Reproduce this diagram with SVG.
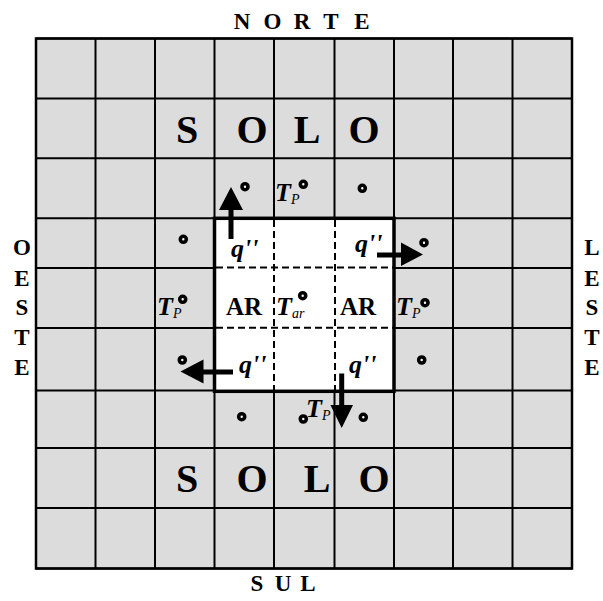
<svg xmlns="http://www.w3.org/2000/svg" width="603" height="601" viewBox="0 0 603 601">
<defs>
<style>
.grid{stroke:#000;stroke-width:2;fill:none}
.lbl{font-family:"Liberation Serif",serif;font-weight:bold;fill:#000}
.big{font-size:40px}
.dir{font-size:23px;text-anchor:middle}
.it{font-family:"Liberation Serif",serif;font-weight:bold;font-style:italic;fill:#000}
.sub{font-family:"Liberation Serif",serif;font-style:italic;font-weight:normal;font-size:14px}
.dot{fill:#fff;stroke:#000;stroke-width:3.6}
.dash{stroke:#000;stroke-width:2;stroke-dasharray:7,4;fill:none}
.arr{fill:#000;stroke:none}
</style>
</defs>
<rect width="603" height="601" fill="#fff"/>
<g id="soil">
<rect x="36" y="38.5" width="536" height="530" fill="#dcdcdc"/>
<path class="grid" d="M36 38.5V568.5M95.5 38.5V568.5M155 38.5V568.5M214.5 38.5V568.5M274 38.5V568.5M334.5 38.5V568.5M394 38.5V568.5M453 38.5V568.5M512.5 38.5V568.5M572 38.5V568.5M36 38.5H572M36 98.5H572M36 158.3H572M36 218.3H572M36 268H572M36 328H572M36 390.5H572M36 448H572M36 508H572M36 568.5H572"/>
<rect x="36" y="38.5" width="536" height="530" fill="none" stroke="#000" stroke-width="2.5"/>
</g>
<g id="air">
<rect x="214.5" y="218.3" width="179.5" height="173" fill="#fff" stroke="#000" stroke-width="3.5"/>
<path class="dash" d="M216 267.5H393M216 327.8H393M274 220V390M335 220V390"/>
</g>
<g id="labels">
<g class="lbl dir">
<text x="242" y="29">N</text><text x="272.5" y="29">O</text><text x="302" y="29">R</text><text x="331" y="29">T</text><text x="362" y="29">E</text>
<text x="257" y="591">S</text><text x="283" y="591">U</text><text x="308" y="591">L</text>
<text x="22" y="255">O</text><text x="22" y="285.5">E</text><text x="22" y="315">S</text><text x="22" y="345">T</text><text x="22" y="375">E</text>
<text x="592" y="255">L</text><text x="592" y="285.5">E</text><text x="592" y="315">S</text><text x="592" y="345">T</text><text x="592" y="375">E</text>
</g>
<g class="lbl big" text-anchor="middle">
<text x="187" y="143">S</text><text x="252" y="143">O</text><text x="307" y="143">L</text><text x="364" y="143">O</text>
<text x="187" y="492">S</text><text x="252" y="492">O</text><text x="317" y="492">L</text><text x="374" y="492">O</text>
</g>
<g class="lbl" font-size="25">
<text x="226" y="315">AR</text><text x="340" y="315">AR</text>
</g>
<g class="it" font-size="26">
<text x="231" y="257">q''</text>
<text x="355" y="252">q''</text>
<text x="239" y="373">q''</text>
<text x="349" y="373">q''</text>
</g>
<g class="it" font-size="26">
<text x="275" y="201">T<tspan class="sub" dy="3">P</tspan></text>
<text x="157" y="315">T<tspan class="sub" dy="3">P</tspan></text>
<text x="396" y="315">T<tspan class="sub" dy="3">P</tspan></text>
<text x="306" y="417">T<tspan class="sub" dy="3">P</tspan></text>
<text x="276" y="315">T<tspan class="sub" dy="3">ar</tspan></text>
</g>
</g>
<g id="points">
<circle class="dot" cx="245" cy="186.7" r="3"/>
<circle class="dot" cx="303.3" cy="184.3" r="3"/>
<circle class="dot" cx="362.3" cy="188.3" r="3"/>
<circle class="dot" cx="183.3" cy="239.3" r="3"/>
<circle class="dot" cx="424" cy="242.7" r="3"/>
<circle class="dot" cx="182.7" cy="299.3" r="3"/>
<circle class="dot" cx="302.7" cy="295.7" r="3"/>
<circle class="dot" cx="425" cy="302.7" r="3"/>
<circle class="dot" cx="182.3" cy="360" r="3"/>
<circle class="dot" cx="421.7" cy="360" r="3"/>
<circle class="dot" cx="241.7" cy="416.7" r="3"/>
<circle class="dot" cx="303.3" cy="419" r="3"/>
<circle class="dot" cx="363.3" cy="417.3" r="3"/>
</g>
<g id="connectors">
<path class="arr" d="M228.5 239V210H219L231 187L243 210H233.5V239Z"/>
<path class="arr" d="M377 252.5H401V242.5L423 254.5L401 266V257.5H377Z"/>
<path class="arr" d="M233 369.5H203.5V359.5L180.5 371.5L203.5 383.5V374.5H233Z"/>
<path class="arr" d="M339.2 373.5H344.2V405H353L341.7 428L330.4 405H339.2Z"/>
</g>
</svg>
